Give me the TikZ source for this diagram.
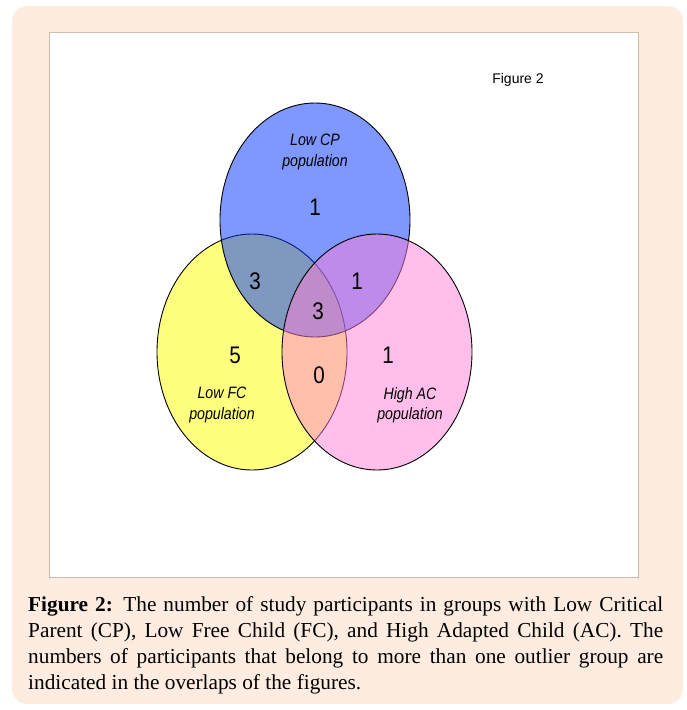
\documentclass[tikz,border=0pt]{standalone}
\usepackage{fontspec}
\setmainfont{Liberation Serif}
\newfontfamily\arialf{Liberation Sans}
\usepackage{graphicx}
\usetikzlibrary{shapes.geometric}
\newcommand{\nar}[1]{\scalebox{0.86}[1]{#1}}
\definecolor{bgpeach}{HTML}{FDECDF}
\definecolor{panelline}{HTML}{C9BBAE}
\definecolor{vyellow}{RGB}{255,255,0}
\definecolor{vblue}{RGB}{0,51,255}
\definecolor{vpink}{RGB}{255,128,215}
\tikzset{
  setell/.style={ellipse, draw=black, line width=0.9pt, fill opacity=0.5, minimum width=190pt, inner sep=0pt},
  numlab/.style={font=\arialf\fontsize{24}{24}\selectfont, inner sep=0pt},
  grplab/.style={font=\arialf\itshape\fontsize{16.5}{20.5}\selectfont, align=center, inner sep=0pt},
  capline/.style={anchor=base west, inner sep=0pt, font=\fontsize{21.3}{22}\selectfont}
}
\begin{document}
\begin{tikzpicture}[x=1pt,y=-1pt]
\useasboundingbox (0,0) rectangle (686,710);
\fill[bgpeach, rounded corners=15pt] (12,6) rectangle (683,704);
\node[draw=panelline, fill=white, line width=0.8pt, minimum width=589pt, minimum height=545pt, inner sep=0pt, anchor=north west] (panel) at (49,32) {};
% sets
\node[setell, fill=vyellow, minimum height=236pt] (fc) at (252,352) {};
\node[setell, fill=vblue, minimum height=234pt] (cp) at (315,220) {};
\node[setell, fill=vpink, minimum height=236pt] (ac) at (377,352) {};
% labels
\node[font=\arialf\fontsize{14}{14}\selectfont, inner sep=0pt] (fig) at (518,80) {Figure 2};
\node[grplab] (cpl) at (315,152) {\nar{Low CP}\\\nar{population}};
\node[grplab] (fcl) at (222,405) {\nar{Low FC}\\\nar{population}};
\node[grplab] (acl) at (410,405) {\nar{High AC}\\\nar{population}};
\node[numlab] (n1) at (315,207) {\nar{1}};
\node[numlab] (n2) at (255,281) {\nar{3}};
\node[numlab] (n3) at (357,281) {\nar{1}};
\node[numlab] (n4) at (318,311) {\nar{3}};
\node[numlab] (n5) at (235,355) {\nar{5}};
\node[numlab] (n6) at (319,375) {\nar{0}};
\node[numlab] (n7) at (388,355) {\nar{1}};
% caption
\node[capline] (c1) at (28,611) {\makebox[635pt][s]{\textbf{Figure 2:} The number of study participants in groups with Low Critical}};
\node[capline] (c2) at (28,637) {\makebox[635pt][s]{Parent (CP), Low Free Child (FC), and High Adapted Child (AC). The}};
\node[capline] (c3) at (28,663) {\makebox[635pt][s]{numbers of participants that belong to more than one outlier group are}};
\node[capline] (c4) at (28,689) {indicated in the overlaps of the figures.};
\end{tikzpicture}
\end{document}
